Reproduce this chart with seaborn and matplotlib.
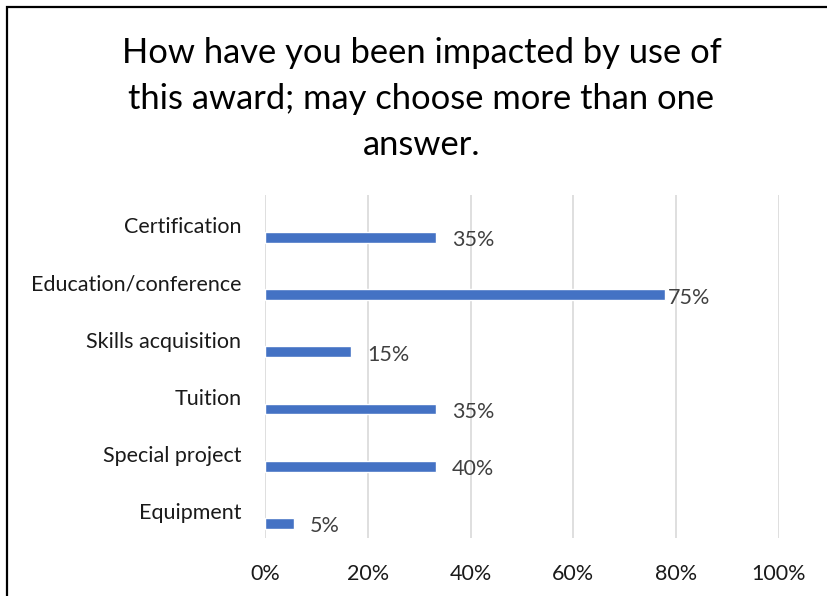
import matplotlib
matplotlib.use("Agg")
import matplotlib.pyplot as plt
from matplotlib.patches import Rectangle
from matplotlib.transforms import ScaledTranslation
import seaborn as sns
import pandas as pd

# data (bar lengths do not match the printed labels in the original)
categories = ["Certification", "Education/conference", "Skills acquisition",
              "Tuition", "Special project", "Equipment"]
bar_values = [33.3, 77.8, 16.7, 33.3, 33.3, 5.6]
label_texts = ["35%", "75%", "15%", "35%", "40%", "5%"]
x_ticks = [0, 20, 40, 60, 80, 100]
x_tick_labels = ["0%", "20%", "40%", "60%", "80%", "100%"]
title = "How have you been impacted by use of\nthis award; may choose more than one\nanswer."

df = pd.DataFrame({"cat": categories, "val": bar_values})

sns.set_theme(style="white")
plt.rcParams["font.family"] = ["Lato", "DejaVu Sans"]

fig = plt.figure(figsize=(8.27, 5.96), dpi=100)
ax = fig.add_axes([265 / 827, 58 / 596, 514 / 827, 343 / 596])

sns.barplot(data=df, x="val", y="cat", color="#4472C4", width=0.19,
            saturation=1, ax=ax, zorder=3)

ax.set_xlim(0, 100)
ax.set_ylim(5.257, -0.743)
ax.set_xticks(x_ticks)
ax.set_xticklabels(x_tick_labels, fontsize=15.5, color="#1a1a1a")
ax.tick_params(axis="x", length=0, pad=19)
ax.tick_params(axis="y", length=0, pad=17)
for lab in ax.get_yticklabels():
    lab.set_fontsize(15.5)
    lab.set_color("#1a1a1a")
    lab.set_transform(lab.get_transform() + ScaledTranslation(0, 0.12, fig.dpi_scale_trans))
ax.set_xlabel("")
ax.set_ylabel("")
ax.grid(axis="x", color="#D9D9D9", linewidth=1.2, zorder=0)
ax.grid(axis="y", visible=False)
sns.despine(ax=ax, left=True, bottom=True)

# value labels
for i, (v, t) in enumerate(zip(bar_values, label_texts)):
    pad = 3 if v == max(bar_values) else 16
    ax.annotate(t, (v, i), xytext=(pad, -3), textcoords="offset pixels",
                ha="left", va="center", fontsize=15.5, color="#404040")

fig.text(421.5 / 827, 1 - 99 / 596, title, ha="center", va="center",
         fontsize=24.8, color="#000000", linespacing=1.53)

fig.patches.append(Rectangle((7 / 827, -0.1), 1.2, 1 - 7 / 596 + 0.1,
                             transform=fig.transFigure, fill=False,
                             edgecolor="black", linewidth=1.6))

fig.savefig("out.png", dpi=100, facecolor="white")
